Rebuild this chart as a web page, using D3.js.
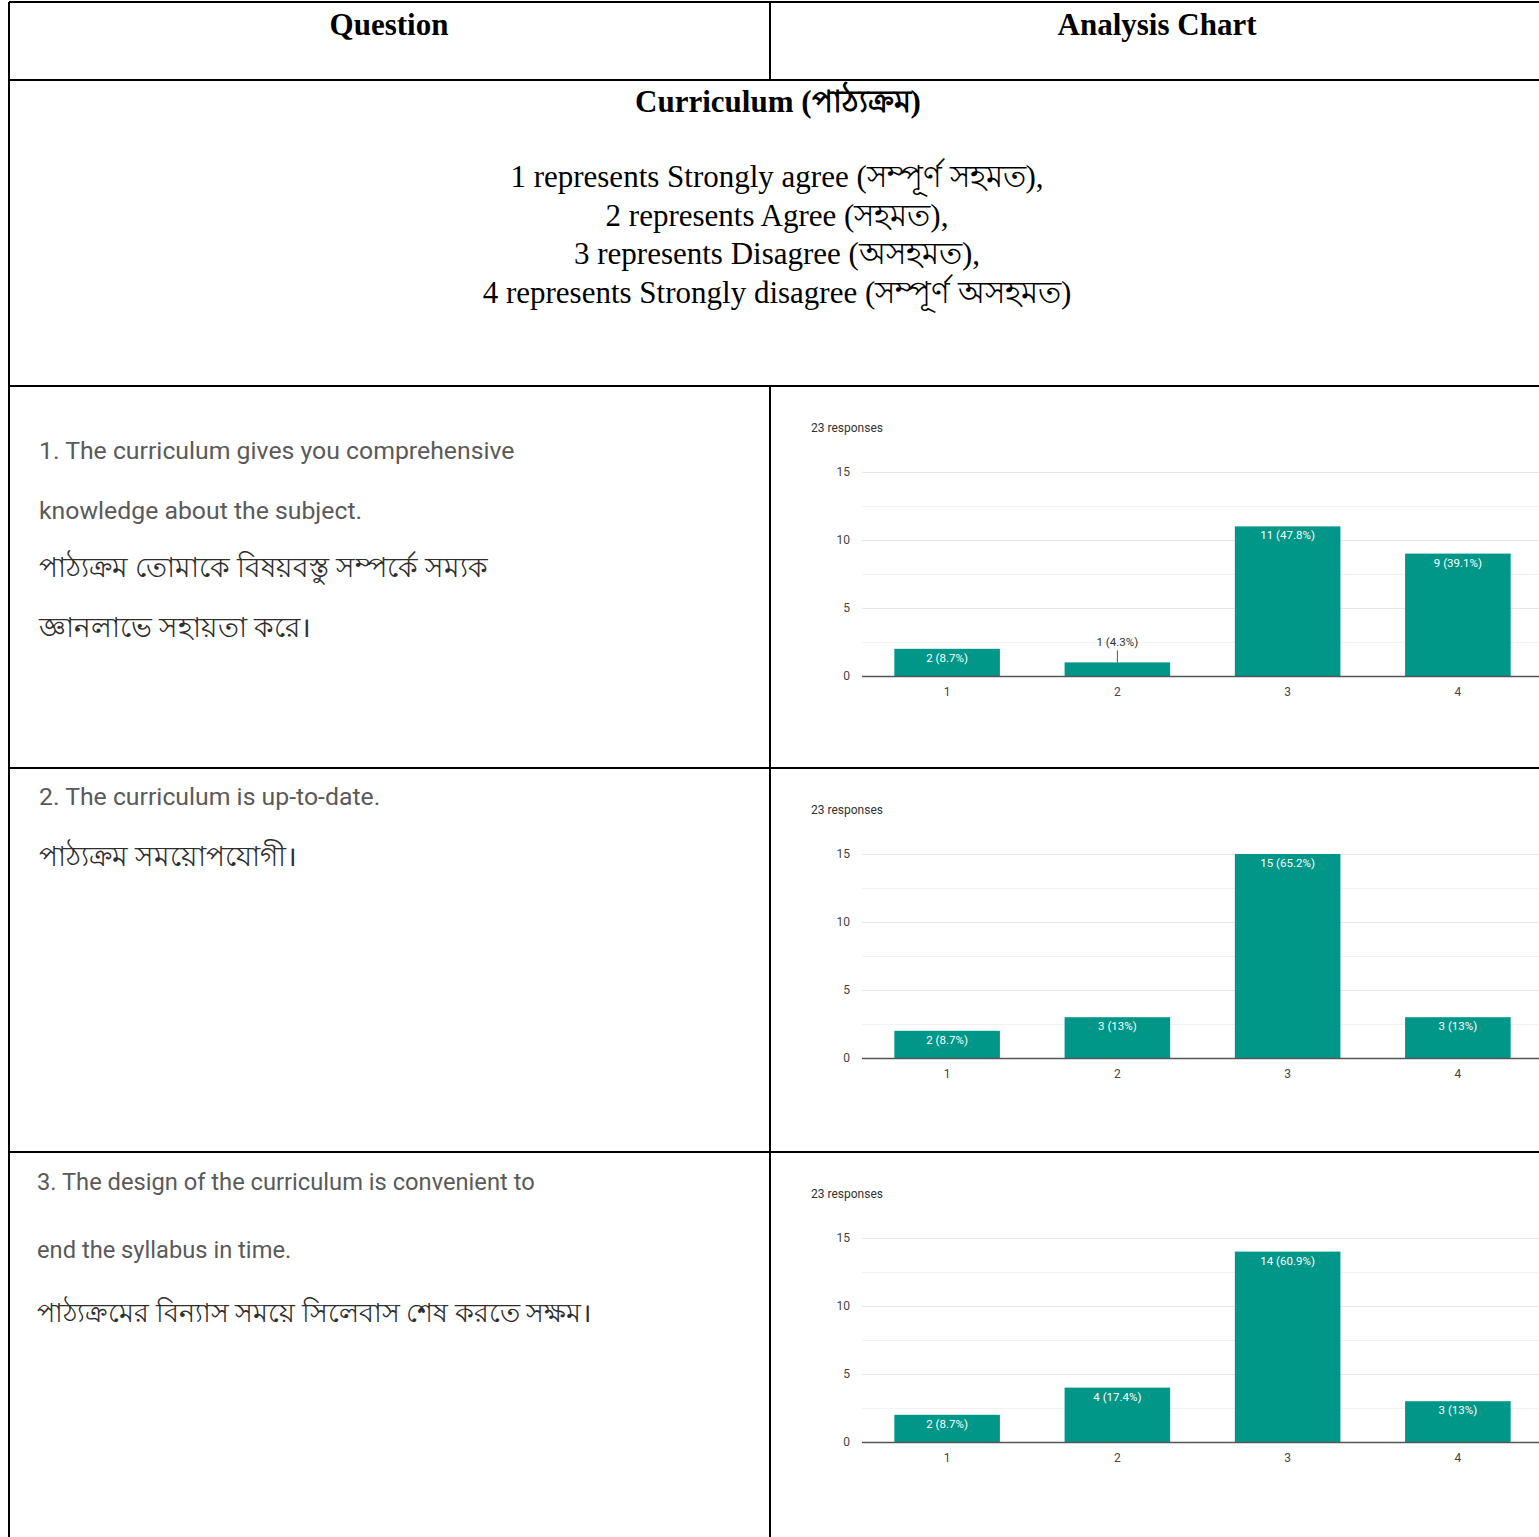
<!DOCTYPE html>
<html>
<head>
<meta charset="utf-8">
<script src="https://cdn.jsdelivr.net/npm/d3@7"></script>
<style>
  body { margin: 0; background: #fff; }
  svg { display: block; }
  .serif { font-family: "Liberation Serif", "DejaVu Serif", serif; fill: #000; }
  .qtext { font-family: Roboto, "Noto Sans", sans-serif; fill: #5a5a5a; }
  .bn { fill: #2e2e2e; }
  .tick-lbl { font-family: Roboto, Arial, sans-serif; font-size: 12px; fill: #444; }
</style>
</head>
<body>
<div id="chart"></div>
<script>
// ---- data ----
const categories = ['1', '2', '3', '4']
const q1Counts = [2, 1, 11, 9]
const q2Counts = [2, 3, 15, 3]
const q3Counts = [2, 4, 14, 3]
const totalResponses = 23
const yTicks = [0, 5, 10, 15]

const headerLabels = ['Question', 'Analysis Chart']
const sectionTitle = 'Curriculum (পাঠ্যক্রম)'
const scaleLegend = [
  '1 represents Strongly agree (সম্পূর্ণ সহমত),',
  '2 represents Agree (সহমত),',
  '3 represents Disagree (অসহমত),',
  '4 represents Strongly disagree (সম্পূর্ণ অসহমত)'
]
const q1Lines = [
  '1. The curriculum gives you comprehensive',
  'knowledge about the subject.',
  'পাঠ্যক্রম তোমাকে বিষয়বস্তু সম্পর্কে সম্যক',
  'জ্ঞানলাভে সহায়তা করে।'
]
const q2Lines = [
  '2. The curriculum is up-to-date.',
  'পাঠ্যক্রম সময়োপযোগী।'
]
const q3Lines = [
  '3. The design of the curriculum is convenient to',
  'end the syllabus in time.',
  'পাঠ্যক্রমের বিন্যাস সময়ে সিলেবাস শেষ করতে সক্ষম।'
]

const width = 1539
const height = 1537
const colX = 770
const rowLines = [2, 80, 386, 768, 1152]

const svg = d3.select('#chart').append('svg')
  .attr('width', width)
  .attr('height', height)

// table header
svg.selectAll('.hdr')
  .data(headerLabels)
  .enter().append('text')
  .attr('class', 'serif')
  .attr('x', (d, i) => i === 0 ? 389 : 1157)
  .attr('y', 35)
  .attr('text-anchor', 'middle')
  .attr('font-size', 31)
  .attr('font-weight', 'bold')
  .text(d => d)

// section title + scale legend
svg.append('text')
  .attr('class', 'serif')
  .attr('x', 778).attr('y', 112)
  .attr('text-anchor', 'middle')
  .attr('font-size', 31)
  .attr('font-weight', 'bold')
  .text(sectionTitle)

svg.selectAll('.legend')
  .data(scaleLegend)
  .enter().append('text')
  .attr('class', 'serif')
  .attr('x', 777)
  .attr('y', (d, i) => 187 + i * 38.5)
  .attr('text-anchor', 'middle')
  .attr('font-size', 31)
  .text(d => d)

// question rows (enSize / bnSize: font sizes of English and Bengali lines)
const rows = [
  { top: 386, lines: q1Lines, lineY: [450, 510, 568, 628], x: 39, enSize: 24.8, bnSize: 28, counts: q1Counts },
  { top: 768, lines: q2Lines, lineY: [796, 857], x: 39, enSize: 24.8, bnSize: 28, counts: q2Counts },
  { top: 1152, lines: q3Lines, lineY: [1181, 1249, 1313], x: 37, enSize: 23.7, bnSize: 26.5, counts: q3Counts }
]

const isBengali = s => /[\u0980-\u09FF]/.test(s)

rows.forEach(row => {
  svg.append('g').selectAll('text')
    .data(row.lines)
    .enter().append('text')
    .attr('class', d => isBengali(d) ? 'qtext bn' : 'qtext')
    .attr('x', row.x)
    .attr('y', (d, i) => row.lineY[i] + 9)
    .attr('font-size', d => isBengali(d) ? row.bnSize : row.enSize)
    .text(d => d)
  drawChart(row.top, row.counts)
})

function drawChart(top, counts) {
  const g = svg.append('g')
  const plotTop = top + 86
  const plotBottom = top + 290
  const x = d3.scaleBand().domain(categories).range([862, 1543]).paddingInner(0.38).paddingOuter(0.19)
  const y = d3.scaleLinear().domain([0, 15]).range([plotBottom, plotTop])

  g.append('text')
    .attr('x', 811).attr('y', top + 46)
    .attr('font-family', 'Roboto, Arial, sans-serif')
    .attr('font-size', 12)
    .attr('fill', '#333')
    .text(totalResponses + ' responses')

  // gridlines (major and minor)
  g.selectAll('.grid')
    .data(d3.range(2.5, 15.01, 2.5))
    .enter().append('line')
    .attr('x1', 862).attr('x2', width)
    .attr('y1', d => Math.round(y(d)) + 0.5)
    .attr('y2', d => Math.round(y(d)) + 0.5)
    .attr('stroke', d => d % 5 === 0 ? '#e6e6e6' : '#f2f2f2')

  // y axis labels
  const yAxis = d3.axisLeft(y).tickValues(yTicks).tickSize(0).tickPadding(12)
  g.append('g')
    .attr('transform', 'translate(862,0)')
    .call(yAxis)
    .call(a => a.select('.domain').remove())
    .call(a => a.selectAll('text').attr('class', 'tick-lbl').attr('font-size', null).attr('font-family', null))

  // bars
  g.selectAll('.bar')
    .data(counts)
    .enter().append('rect')
    .attr('x', (d, i) => x(categories[i]))
    .attr('y', d => y(d))
    .attr('width', x.bandwidth())
    .attr('height', d => y(0) - y(d))
    .attr('fill', '#009688')

  // baseline + x labels
  const xAxis = d3.axisBottom(x).tickSize(0).tickPadding(11)
  g.append('g')
    .attr('transform', `translate(0,${plotBottom})`)
    .call(xAxis)
    .call(a => a.select('.domain').attr('d', `M862,0.5H${width}`).attr('stroke', '#555').attr('stroke-width', 1.5))
    .call(a => a.selectAll('text').attr('class', 'tick-lbl').attr('font-size', null).attr('font-family', null))

  // value labels
  counts.forEach((c, i) => {
    const pct = +(c / totalResponses * 100).toFixed(1)
    const label = `${c} (${pct}%)`
    const cx = x(categories[i]) + x.bandwidth() / 2
    const barH = y(0) - y(c)
    if (barH >= 20) {
      g.append('text')
        .attr('x', cx).attr('y', y(c) + 13)
        .attr('text-anchor', 'middle')
        .attr('font-family', 'Roboto, Arial, sans-serif')
        .attr('font-size', 11.5)
        .attr('fill', '#fff')
        .text(label)
    } else {
      g.append('line')
        .attr('x1', cx).attr('x2', cx)
        .attr('y1', y(c) - 12).attr('y2', y(c))
        .attr('stroke', '#555')
      g.append('text')
        .attr('x', cx).attr('y', y(c) - 16)
        .attr('text-anchor', 'middle')
        .attr('font-family', 'Roboto, Arial, sans-serif')
        .attr('font-size', 11.5)
        .attr('fill', '#333')
        .text(label)
    }
  })
}

// table borders
const border = svg.append('g').attr('stroke', '#000').attr('stroke-width', 2)
border.selectAll('.hline')
  .data(rowLines)
  .enter().append('line')
  .attr('x1', 9).attr('x2', width)
  .attr('y1', d => d).attr('y2', d => d)
border.append('line').attr('x1', 9).attr('x2', 9).attr('y1', 2).attr('y2', height)
border.append('line').attr('x1', colX).attr('x2', colX).attr('y1', 2).attr('y2', 80)
border.append('line').attr('x1', colX).attr('x2', colX).attr('y1', 386).attr('y2', height)
</script>
</body>
</html>
